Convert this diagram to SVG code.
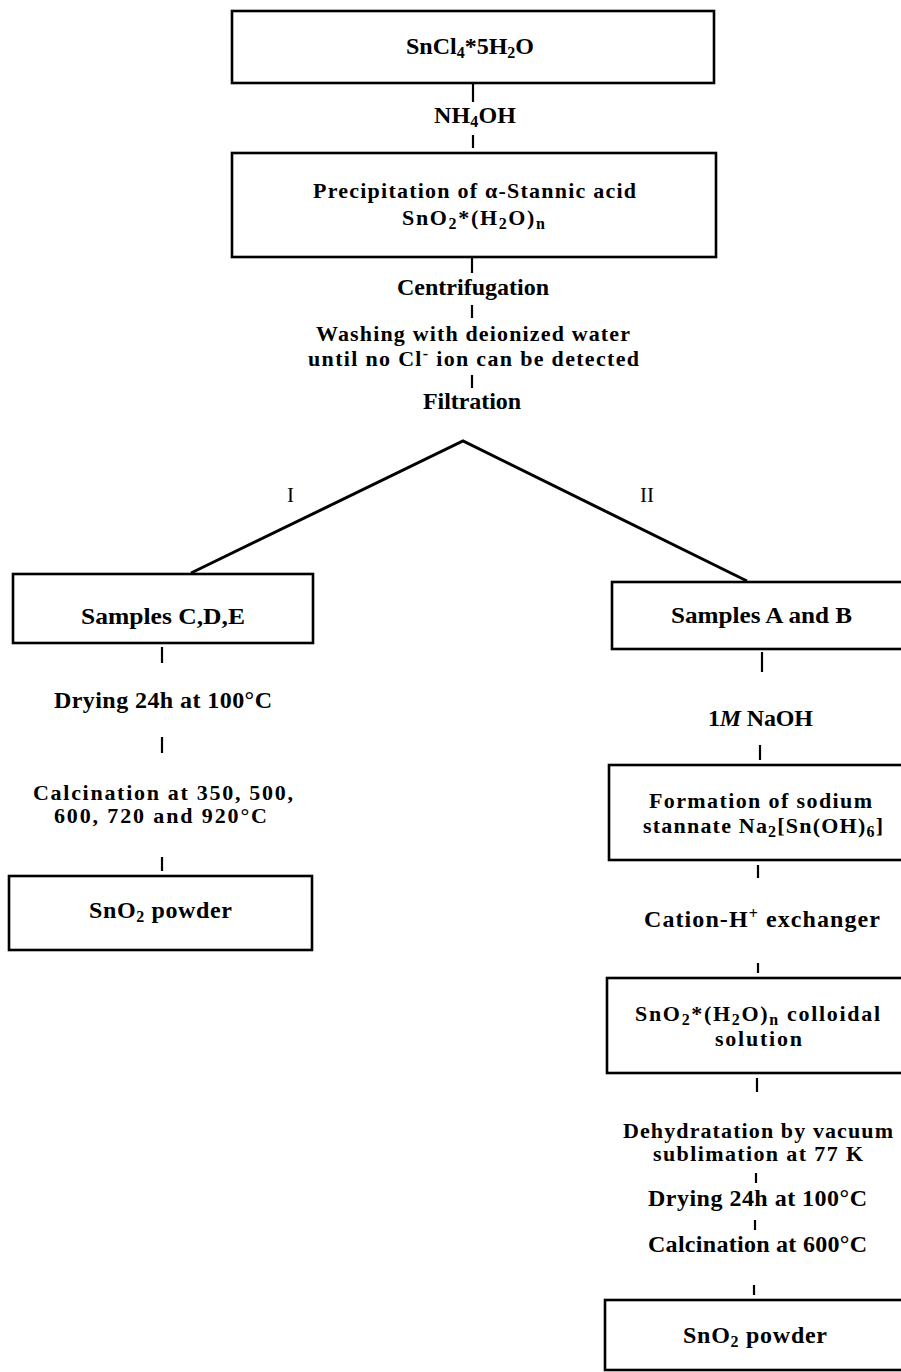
<svg xmlns="http://www.w3.org/2000/svg" width="901" height="1372" viewBox="0 0 901 1372">
<style>
.box{fill:none;stroke:#000;stroke-width:2.6}
.ln{stroke:#000;stroke-width:2.2;fill:none}
.diag{stroke:#000;stroke-width:3;fill:none}
text{font-family:"Liberation Serif","Times New Roman",serif;font-weight:bold;font-size:24px;fill:#000}
.two{font-size:22px}
.rom{font-weight:normal;font-size:21px}
.sub{font-size:16px}
</style>
<rect width="901" height="1372" fill="#fff"/>
<g id="connectors">
<line class="ln" x1="473" y1="83" x2="473" y2="102"/>
<line class="ln" x1="473" y1="135" x2="473" y2="148"/>
<line class="ln" x1="472" y1="258" x2="472" y2="273"/>
<line class="ln" x1="472" y1="305" x2="472" y2="318"/>
<line class="ln" x1="472" y1="375" x2="472" y2="388"/>
<polyline class="diag" points="191,573 463,441 747,581"/>
<line class="ln" x1="162" y1="647" x2="162" y2="663"/>
<line class="ln" x1="162" y1="737" x2="162" y2="753"/>
<line class="ln" x1="162" y1="857" x2="162" y2="871"/>
<line class="ln" x1="762" y1="652" x2="762" y2="672"/>
<line class="ln" x1="760" y1="745" x2="760" y2="760"/>
<line class="ln" x1="758" y1="865" x2="758" y2="878"/>
<line class="ln" x1="758" y1="963" x2="758" y2="973"/>
<line class="ln" x1="757" y1="1078" x2="757" y2="1092"/>
<line class="ln" x1="756" y1="1173" x2="756" y2="1183"/>
<line class="ln" x1="755" y1="1220" x2="755" y2="1230"/>
<line class="ln" x1="754" y1="1285" x2="754" y2="1295"/>
<text class="rom" x="287" y="502">I</text>
<text class="rom" x="640" y="502">II</text>
</g>
<g id="n1">
<rect class="box" x="232" y="11" width="482" height="72"/>
<text x="406" y="54" textLength="128" lengthAdjust="spacing">SnCl<tspan class="sub" dy="4">4</tspan><tspan dy="-4">*5H</tspan><tspan class="sub" dy="4">2</tspan><tspan dy="-4">O</tspan></text>
</g>
<g id="n2">
<text x="434" y="123" textLength="82" lengthAdjust="spacing">NH<tspan class="sub" dy="4">4</tspan><tspan dy="-4">OH</tspan></text>
</g>
<g id="n3">
<rect class="box" x="232" y="153" width="484" height="104"/>
<text class="two" x="313" y="198" textLength="323" lengthAdjust="spacing">Precipitation of α-Stannic acid</text>
<text class="two" x="402" y="225" textLength="143" lengthAdjust="spacing">SnO<tspan class="sub" dy="4">2</tspan><tspan dy="-4">*(H</tspan><tspan class="sub" dy="4">2</tspan><tspan dy="-4">O)</tspan><tspan class="sub" dy="4">n</tspan></text>
</g>
<g id="n4">
<text x="397" y="295" textLength="152" lengthAdjust="spacing">Centrifugation</text>
</g>
<g id="n5">
<text class="two" x="316" y="341" textLength="314" lengthAdjust="spacing">Washing with deionized water</text>
<text class="two" x="308" y="366" textLength="331" lengthAdjust="spacing">until no Cl<tspan class="sub" dy="-7">-</tspan><tspan dy="7"> ion can be detected</tspan></text>
</g>
<g id="n6">
<text x="423" y="409" textLength="98" lengthAdjust="spacing">Filtration</text>
</g>
<g id="n7">
<rect class="box" x="13" y="574" width="300" height="69"/>
<text x="81" y="624" textLength="164" lengthAdjust="spacingAndGlyphs">Samples  C,D,E</text>
</g>
<g id="n8">
<text x="54" y="708" textLength="218" lengthAdjust="spacing">Drying 24h at 100°C</text>
</g>
<g id="n9">
<text class="two" x="33" y="800" textLength="260" lengthAdjust="spacing">Calcination at 350, 500,</text>
<text class="two" x="54" y="823" textLength="213" lengthAdjust="spacing">600, 720 and 920°C</text>
</g>
<g id="n10">
<rect class="box" x="9" y="876" width="303" height="74"/>
<text x="89" y="918" textLength="143" lengthAdjust="spacing">SnO<tspan class="sub" dy="4">2</tspan><tspan dy="-4"> powder</tspan></text>
</g>
<g id="n11">
<rect class="box" x="612" y="582" width="300" height="67"/>
<text x="671" y="623" textLength="181" lengthAdjust="spacingAndGlyphs">Samples A and B</text>
</g>
<g id="n12">
<text x="708" y="726" textLength="105" lengthAdjust="spacing">1<tspan font-style="italic">M</tspan> NaOH</text>
</g>
<g id="n13">
<rect class="box" x="609" y="765" width="300" height="95"/>
<text class="two" x="649" y="808" textLength="223" lengthAdjust="spacing">Formation of sodium</text>
<text class="two" x="643" y="833" textLength="240" lengthAdjust="spacing">stannate Na<tspan class="sub" dy="4">2</tspan><tspan dy="-4">[Sn(OH)</tspan><tspan class="sub" dy="4">6</tspan><tspan dy="-4">]</tspan></text>
</g>
<g id="n14">
<text x="644" y="927" textLength="236" lengthAdjust="spacing">Cation-H<tspan class="sub" dy="-8">+</tspan><tspan dy="8"> exchanger</tspan></text>
</g>
<g id="n15">
<rect class="box" x="607" y="978" width="300" height="95"/>
<text class="two" x="635" y="1021" textLength="245" lengthAdjust="spacing">SnO<tspan class="sub" dy="4">2</tspan><tspan dy="-4">*(H</tspan><tspan class="sub" dy="4">2</tspan><tspan dy="-4">O)</tspan><tspan class="sub" dy="4">n</tspan><tspan dy="-4"> colloidal</tspan></text>
<text class="two" x="715" y="1046" textLength="87" lengthAdjust="spacing">solution</text>
</g>
<g id="n16">
<text class="two" x="623" y="1138" textLength="270" lengthAdjust="spacing">Dehydratation by vacuum</text>
<text class="two" x="653" y="1161" textLength="210" lengthAdjust="spacing">sublimation at 77 K</text>
</g>
<g id="n17">
<text x="648" y="1206" textLength="219" lengthAdjust="spacing">Drying 24h at 100°C</text>
</g>
<g id="n18">
<text x="648" y="1252" textLength="219" lengthAdjust="spacing">Calcination at 600°C</text>
</g>
<g id="n19">
<rect class="box" x="605" y="1300" width="300" height="70"/>
<text x="683" y="1343" textLength="144" lengthAdjust="spacing">SnO<tspan class="sub" dy="4">2</tspan><tspan dy="-4"> powder</tspan></text>
</g>
</svg>
